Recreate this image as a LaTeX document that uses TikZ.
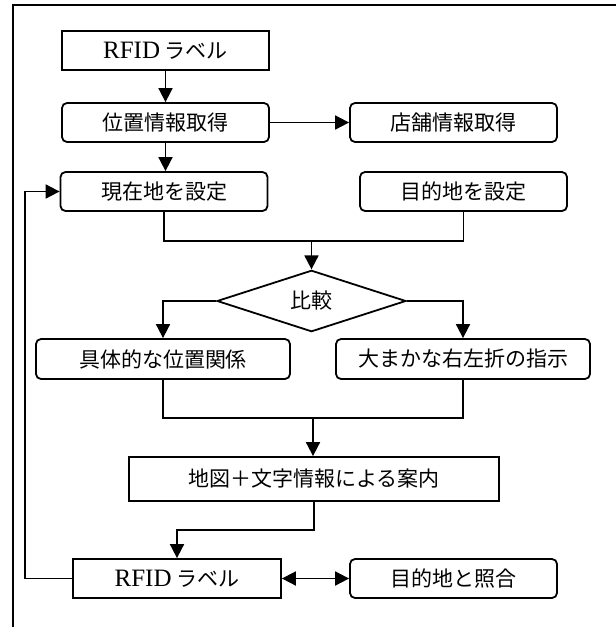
\documentclass[tikz,border=0pt]{standalone}
\usepackage{fontspec}
\newfontfamily\cjk{Noto Sans CJK JP}
\newfontfamily\latinserif{Liberation Serif}
\usetikzlibrary{shapes.geometric,arrows.meta}
\newcommand{\rfidtxt}{{\latinserif\fontsize{25}{28}\selectfont RFID}}
\begin{document}
\begin{tikzpicture}[x=1pt,y=-1pt,
  line width=1.8pt,
  txt/.style={font=\fontsize{21}{24}\selectfont\cjk},
  sharpbox/.style={draw,txt,inner sep=0pt,minimum width=207pt,minimum height=39pt},
  roundbox/.style={sharpbox,rounded corners=5pt},
  arr/.style={-{Triangle[length=14pt,width=14pt]}},
  darr/.style={{Triangle[length=14pt,width=14pt]}-{Triangle[length=14pt,width=14pt]}}
]
\useasboundingbox (0,0) rectangle (616,627);
\draw (13,627) -- (13,5) -- (616,5);

\node[sharpbox] (r1) at (165.5,50.5) {\rfidtxt\ ラベル};
\node[roundbox] (pos) at (165.5,122.5) {位置情報取得};
\node[roundbox] (shop) at (453.5,122.5) {店舗情報取得};
\node[roundbox] (cur) at (164,191.5) {現在地を設定};
\node[roundbox] (dest) at (463.5,191.5) {目的地を設定};
\node[draw,diamond,txt,inner sep=0pt,minimum width=189pt,minimum height=60pt] (cmp) at (311.5,301) {比較};
\node[roundbox,minimum width=254pt,minimum height=40pt] (conc) at (163,359) {具体的な位置関係};
\node[roundbox,minimum width=254pt,minimum height=40pt] (rough) at (463,359) {大まかな右左折の指示};
\node[sharpbox,minimum width=370pt,minimum height=44pt] (map) at (314,479) {地図＋文字情報による案内};
\node[sharpbox,minimum width=208pt] (r2) at (177,578.5) {\rfidtxt\ ラベル};
\node[roundbox] (match) at (453.5,578.5) {目的地と照合};

\coordinate (j1) at (311.5,241);
\coordinate (j2) at (313,418);
\coordinate (j3) at (314,530);
\coordinate (c1) at (25,578.5);

\draw[arr] (r1) -- (pos);
\draw[arr] (pos) -- (shop);
\draw[arr] (pos.south) -- (pos.south |- cur.north);
\draw (cur.south) |- (j1);
\draw (dest.south) |- (j1);
\draw[arr] (j1) -- (cmp.north);
\draw[arr] (cmp.west) -| (conc.north);
\draw[arr] (cmp.east) -| (rough.north);
\draw (conc.south) |- (j2);
\draw (rough.south) |- (j2);
\draw[arr] (j2) -- (j2 |- map.north);
\draw[arr] (map.south) -- (j3) -| (r2.north);
\draw[arr] (r2.west) -- (c1) |- (cur.west);
\draw[darr] (r2) -- (match);
\end{tikzpicture}
\end{document}
